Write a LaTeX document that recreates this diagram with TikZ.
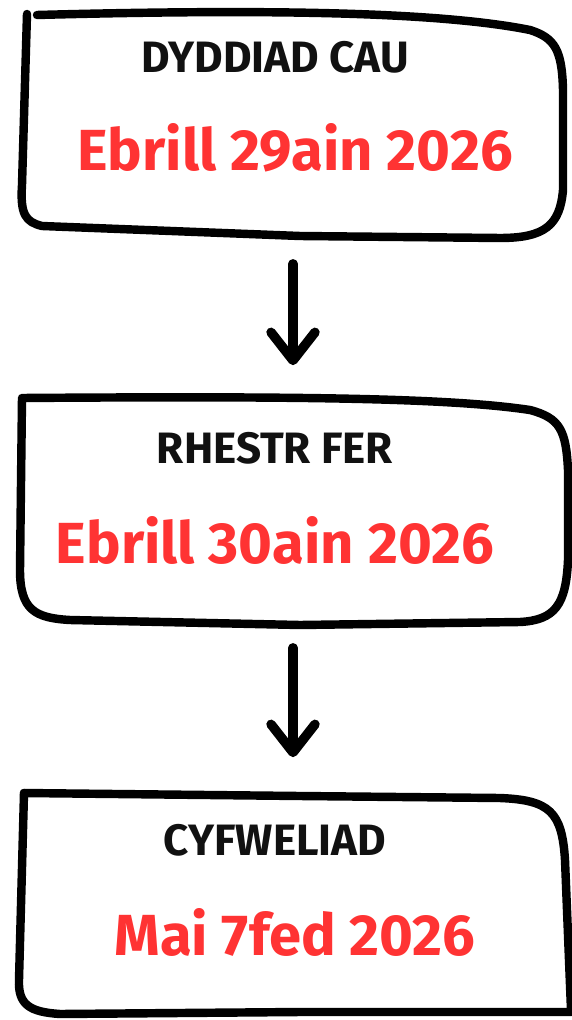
\documentclass[tikz,border=0pt]{standalone}
\usepackage{fontspec}
\setmainfont{Fira Sans}
\usetikzlibrary{arrows.meta,positioning}
\definecolor{datered}{HTML}{FF3333}
\definecolor{inkblack}{HTML}{111111}
\tikzset{
  sketch/.style={line width=4.8pt,line cap=round,line join=round},
  box/.style={minimum width=10.95cm,minimum height=4.5cm,inner sep=0pt},
  title/.style={font=\fontsize{25}{30}\selectfont\bfseries,text=inkblack},
  datetext/.style={font=\fontsize{33}{40}\selectfont\bfseries,text=datered},
  flow/.style={line width=5.4pt,line cap=round,-{Straight Barb[round,length=16pt,width=25pt]},
    shorten <=0.48cm,shorten >=0.66cm}
}
\begin{document}
\begin{tikzpicture}[x=0.02cm,y=-0.02cm]
\useasboundingbox (0,0) rectangle (571,1020);
% boxes, titles and dates
\foreach \yc/\yt/\dx/\yd/\ttl/\dt [count=\n] in {127/57/295/148/DYDDIAD CAU/Ebrill 29ain 2026,
    511/448/275/540/RHESTR FER/Ebrill 30ain 2026,
    903/840/295/932/CYFWELIAD/Mai 7fed 2026}
  {
  \node[box] (B\n) at (293,\yc) {};
  \node[title] (T\n) at (275,\yt) {\ttl};
  \node[datetext] (D\n) at (\dx,\yd) {\dt};
  }
% hand drawn outlines
\draw[sketch] (27,14) -- (22,185) .. controls (20,215) and (26,222) .. (42,226) -- (300,236) -- (500,238)
  .. controls (545,238) and (560,225) .. (563,190) -- (563,90) .. controls (562,50) and (555,38) .. (530,30)
  .. controls (450,14) and (300,8) .. (37,15);
\draw[sketch] (22,398) -- (20,570) .. controls (20,610) and (35,618) .. (70,620) -- (300,625) -- (520,622)
  .. controls (555,620) and (566,605) .. (568,560) -- (568,470) .. controls (566,430) and (560,418) .. (530,410)
  .. controls (450,398) and (300,396) .. (22,398);
\draw[sketch] (24,793) -- (19,980) .. controls (18,1005) and (30,1012) .. (60,1014) -- (300,1012) -- (571,1012);
\draw[sketch] (24,793) -- (300,796) -- (500,798) .. controls (550,800) and (562,812) .. (565,860) -- (571,1010);
% connectors
\foreach \a/\b in {1/2,2/3}
  \draw[flow] (B\a.south) -- (B\b.north);
\end{tikzpicture}
\end{document}
